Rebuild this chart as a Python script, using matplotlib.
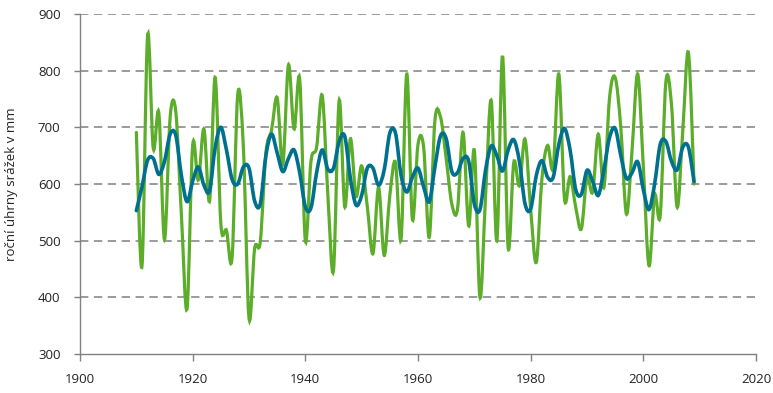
import matplotlib
matplotlib.use("Agg")
import matplotlib.pyplot as plt
from matplotlib.path import Path
from matplotlib.patches import PathPatch

# annual precipitation totals (mm), 1910-2009
years = list(range(1910, 2010))
annual = [691, 455, 862, 663, 725, 502, 718, 728, 545, 380,
          668, 607, 697, 570, 788, 530, 518, 471, 758, 665,
          363, 486, 498, 655, 695, 752, 635, 810, 697, 785,
          500, 640, 665, 756, 580, 448, 747, 560, 680, 578,
          632, 560, 477, 594, 474, 580, 638, 503, 794, 538,
          670, 665, 506, 712, 718, 645, 565, 555, 691, 526,
          659, 400, 580, 747, 500, 826, 488, 638, 597, 679,
          555, 462, 610, 668, 629, 794, 574, 613, 559, 521,
          613, 586, 688, 594, 752, 788, 700, 547, 660, 794,
          630, 456, 580, 545, 780, 740, 559, 694, 832, 600]
# smoothed series
smoothed = [553, 595, 642, 645, 617, 640, 688, 686, 615, 569,
            605, 630, 598, 588, 665, 700, 660, 608, 600, 630,
            628, 570, 565, 650, 688, 655, 622, 645, 660, 620,
            560, 558, 620, 660, 626, 628, 675, 684, 610, 563,
            580, 628, 628, 598, 625, 690, 690, 615, 586, 612,
            628, 595, 569, 630, 685, 680, 622, 620, 645, 640,
            565, 555, 625, 667, 650, 623, 660, 678, 640, 565,
            556, 615, 641, 612, 612, 670, 698, 660, 590, 582,
            624, 605, 580, 625, 682, 698, 650, 610, 620, 639,
            590, 555, 600, 670, 675, 640, 625, 665, 665, 604]

xticks = [1900, 1920, 1940, 1960, 1980, 2000, 2020]
yticks = [300, 400, 500, 600, 700, 800, 900]
ylabel = "roční úhrny srážek v mm"

GREEN = "#5cad2a"
BLUE = "#00708f"
GRAY = "#808080"


def smooth_path(x, y):
    # excel-like smoothed line: bezier segments through every data point
    n = len(x)
    verts = [(x[0], y[0])]
    codes = [Path.MOVETO]
    for i in range(n - 1):
        a = max(i - 1, 0)
        b = min(i + 2, n - 1)
        c1 = (x[i] + (x[i + 1] - x[a]) / 6, y[i] + (y[i + 1] - y[a]) / 6)
        c2 = (x[i + 1] - (x[b] - x[i]) / 6, y[i + 1] - (y[b] - y[i]) / 6)
        verts += [c1, c2, (x[i + 1], y[i + 1])]
        codes += [Path.CURVE4] * 3
    return Path(verts, codes)


plt.rcParams["font.family"] = ["Open Sans", "DejaVu Sans"]
plt.rcParams["lines.scale_dashes"] = False

fig = plt.figure(figsize=(7.73, 3.93), dpi=100)
ax = fig.add_axes([80 / 773, 1 - 354 / 393, 676 / 773, 340 / 393])

for v in yticks[1:]:
    ax.axhline(v, color=GRAY, lw=1.1, ls=(0, (6, 4)), zorder=1)

ax.add_patch(PathPatch(smooth_path(years, annual), facecolor="none",
                       edgecolor=GREEN, lw=2.3, zorder=2, capstyle="round"))
ax.add_patch(PathPatch(smooth_path(years, smoothed), facecolor="none",
                       edgecolor=BLUE, lw=2.6, zorder=3, capstyle="round"))

ax.set_xlim(1900, 2020)
ax.set_ylim(300, 900)
ax.set_xticks(xticks)
ax.set_yticks(yticks)

for s in ["top", "right"]:
    ax.spines[s].set_visible(False)
for s in ["left", "bottom"]:
    ax.spines[s].set_color(GRAY)
    ax.spines[s].set_linewidth(1.0)

ax.tick_params(axis="x", direction="out", length=5, width=1, color=GRAY,
               pad=9, labelsize=9.5, labelcolor="#222222")
ax.tick_params(axis="y", direction="out", length=4, width=1, color=GRAY,
               pad=10, labelsize=9.5, labelcolor="#222222")
ax.set_ylabel(ylabel, fontsize=9.5, color="#222222", labelpad=14)

fig.savefig("out.png", dpi=100)
